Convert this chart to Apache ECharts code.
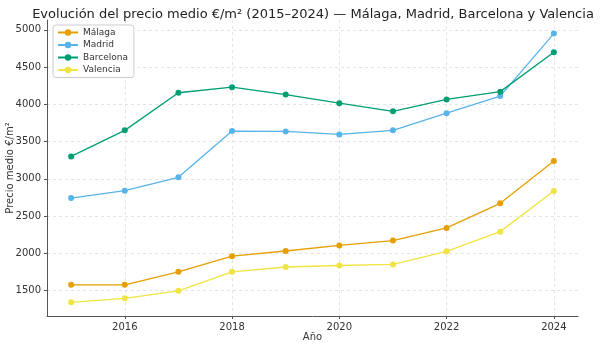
<!DOCTYPE html>
<html><head><meta charset="utf-8">
<script src="https://cdn.jsdelivr.net/npm/echarts@6/dist/echarts.min.js"></script>
<style>html,body{margin:0;padding:0;background:#fff}#c{width:600px;height:347px}</style>
</head><body><div id="c"></div>
<script>
const years = [2015,2016,2017,2018,2019,2020,2021,2022,2023,2024];
const malaga = [1575,1575,1750,1960,2030,2105,2170,2340,2670,3240];
const madrid = [2740,2840,3020,3640,3635,3595,3650,3880,4110,4950];
const barcelona = [3300,3650,4155,4230,4130,4015,3905,4065,4170,4700];
const valencia = [1340,1395,1495,1750,1815,1835,1850,2025,2290,2835];
const xTicks = [2016,2018,2020,2022,2024];
const yTicks = [1500,2000,2500,3000,3500,4000,4500,5000];
const names = ['Málaga','Madrid','Barcelona','Valencia'];
const colors = ['#E69F00','#56B4E9','#009E73','#F0E442'];
const allSeries = [malaga, madrid, barcelona, valencia];

const font = 'DejaVu Sans';
const chart = echarts.init(document.getElementById('c'));
chart.setOption({
  animation:false,
  title:{text:'Evolución del precio medio €/m² (2015–2024) — Málaga, Madrid, Barcelona y Valencia',
    left:308, textAlign:'center', top:3,
    textStyle:{fontFamily:font,fontSize:13,fontWeight:'normal',color:'#222'}},
  legend:{orient:'vertical', left:53, top:25, itemWidth:20, itemHeight:8, itemGap:3.5,
    padding:[3,6,3,4], borderColor:'#ccc', borderWidth:1, borderRadius:3, backgroundColor:'rgba(255,255,255,0.85)',
    textStyle:{fontFamily:font,fontSize:9,color:'#333'}, data:names},
  grid:{left:47, right:22, top:20, bottom:31, containLabel:false, outerBoundsMode:'none'},
  xAxis:{type:'value', min:2014.55, max:2024.45, name:'Año', nameLocation:'middle', nameGap:16, nameMoveOverlap:false,
    nameTextStyle:{fontFamily:font,fontSize:10,color:'#333'},
    axisLine:{lineStyle:{color:'#555',width:1}},
    axisTick:{show:true, length:3, lineStyle:{color:'#555'}, customValues:xTicks},
    axisLabel:{fontFamily:font,fontSize:10,color:'#333',margin:6, customValues:xTicks, formatter:v=>String(v)},
    splitLine:{show:true,lineStyle:{color:'#ddd',type:[3,3],width:0.8}}},
  yAxis:{type:'value', min:1157, max:5132, name:'Precio medio €/m²', nameLocation:'middle', nameGap:32, nameMoveOverlap:false,
    nameTextStyle:{fontFamily:font,fontSize:10,color:'#333'},
    axisLine:{show:true,lineStyle:{color:'#555',width:1}},
    axisTick:{show:true, length:3, lineStyle:{color:'#555'}, customValues:yTicks},
    axisLabel:{fontFamily:font,fontSize:10,color:'#333',margin:6, customValues:yTicks, formatter:v=>String(v)},
    splitLine:{show:true,lineStyle:{color:'#ddd',type:[3,3],width:0.8}}},
  series: allSeries.map((d,i)=>({
    name:names[i], type:'line', data:years.map((y,j)=>[y,d[j]]),
    symbol:'circle', symbolSize:6, color:colors[i],
    lineStyle:{width:1.3,color:colors[i]}, itemStyle:{color:colors[i]}
  }))
});
</script></body></html>
